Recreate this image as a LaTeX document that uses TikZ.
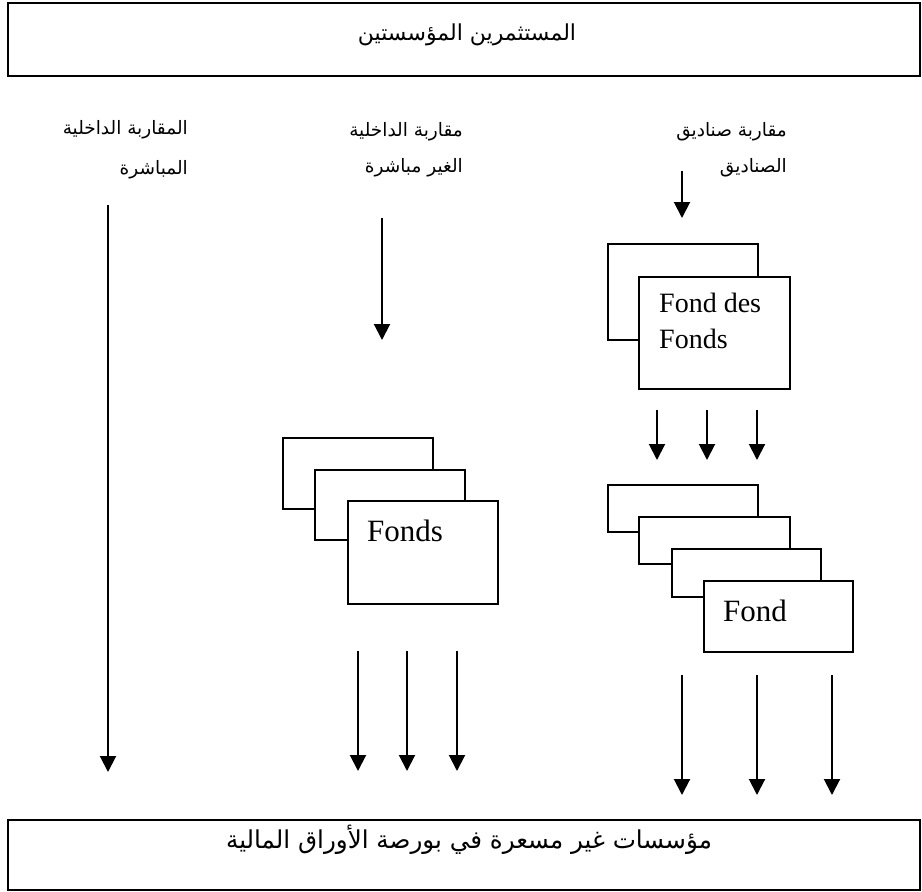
\documentclass[tikz,border=0pt]{standalone}
\usepackage{fontspec}
\setmainfont{Liberation Serif}
\newfontfamily\arabicfont[Script=Arabic]{DejaVu Sans}
\TeXXeTstate=1
\usetikzlibrary{arrows.meta}

\begin{document}
\begin{tikzpicture}[x=1pt,y=-1pt,
  bigbox/.style={draw, line width=1.9pt, inner sep=0pt, minimum width=912pt, minimum height=73pt},
  fundbox/.style={draw, line width=1.6pt, fill=white, inner sep=0pt, anchor=north west},
  fundtext/.style={inner sep=0pt, anchor=base west, font=\fontsize{31}{36}\selectfont},
  titletext/.style={inner sep=0pt, font=\arabicfont\fontsize{22}{26}\selectfont},
  approach/.style={inner sep=0pt, anchor=east, font=\arabicfont\fontsize{18.5}{22}\selectfont},
  flow/.style={line width=2pt, -{Triangle[width=16pt,length=16pt]}}]

\useasboundingbox (0,0) rectangle (922,892);

% investors and target companies
\node[bigbox] (inv) at (464,39.5) {};
\node[titletext] (invt) at (467,35) {\beginR المستثمرين المؤسستين\endR};
\node[bigbox, minimum height=70pt] (firms) at (464,855) {};
\node[titletext, font=\arabicfont\fontsize{24.6}{28}\selectfont] (firmst) at (469,840) {\beginR مؤسسات غير مسعرة في بورصة الأوراق المالية\endR};

% the three approaches
\node[approach] (dir1) at (188,130) {\beginR المقاربة الداخلية\endR};
\node[approach] (dir2) at (188,170) {\beginR المباشرة\endR};
\node[approach] (ind1) at (463,132) {\beginR مقاربة الداخلية\endR};
\node[approach] (ind2) at (463,168) {\beginR الغير مباشرة\endR};
\node[approach] (fof1) at (787,132) {\beginR مقاربة صناديق\endR};
\node[approach] (fof2) at (787,168) {\beginR الصناديق\endR};

% stack of funds
\node[fundbox, minimum width=150pt, minimum height=71pt] (f1) at (282,437) {};
\node[fundbox, minimum width=150pt, minimum height=70pt] (f2) at (314,469) {};
\node[fundbox, minimum width=150pt, minimum height=103pt] (f3) at (347,500) {};
\node[fundtext] (f3t) at (367,541) {Fonds};

% fund of funds
\node[fundbox, minimum width=150pt, minimum height=96pt] (g1) at (607,243) {};
\node[fundbox, minimum width=151pt, minimum height=112pt] (g2) at (638,276) {};
\node[fundtext, font=\fontsize{28}{36}\selectfont] (g2a) at (659,312) {Fond des};
\node[fundtext, font=\fontsize{28}{36}\selectfont] (g2b) at (659,348) {Fonds};

% underlying funds
\node[fundbox, minimum width=150pt, minimum height=47pt] (h1) at (607,484) {};
\node[fundbox, minimum width=151pt, minimum height=47pt] (h2) at (638,516) {};
\node[fundbox, minimum width=149pt, minimum height=48pt] (h3) at (671,548) {};
\node[fundbox, minimum width=149pt, minimum height=71pt] (h4) at (703,580) {};
\node[fundtext] (h4t) at (723,621) {Fond};

% arrow end points
\coordinate (d0) at (108,205);  \coordinate (d1) at (108,772);
\coordinate (i0) at (382,218);  \coordinate (i1) at (382,340);
\coordinate (s0) at (682,171);  \coordinate (s1) at (682,218);
\foreach \x [count=\k] in {657,707,757} {
  \coordinate (ga\k) at (\x,410); \coordinate (gb\k) at (\x,460);
}
\foreach \x [count=\k] in {358,407,457} {
  \coordinate (fa\k) at (\x,651); \coordinate (fb\k) at (\x,771);
}
\foreach \x [count=\k] in {682,757,832} {
  \coordinate (ha\k) at (\x,675); \coordinate (hb\k) at (\x,795);
}

% flows
\draw[flow] (d0) -- (d1);
\draw[flow] (i0) -- (i1);
\draw[flow] (s0) -- (s1);
\foreach \k in {1,2,3} {
  \draw[flow] (ga\k) -- (gb\k);
  \draw[flow] (fa\k) -- (fb\k);
  \draw[flow] (ha\k) -- (hb\k);
}
\end{tikzpicture}
\end{document}
